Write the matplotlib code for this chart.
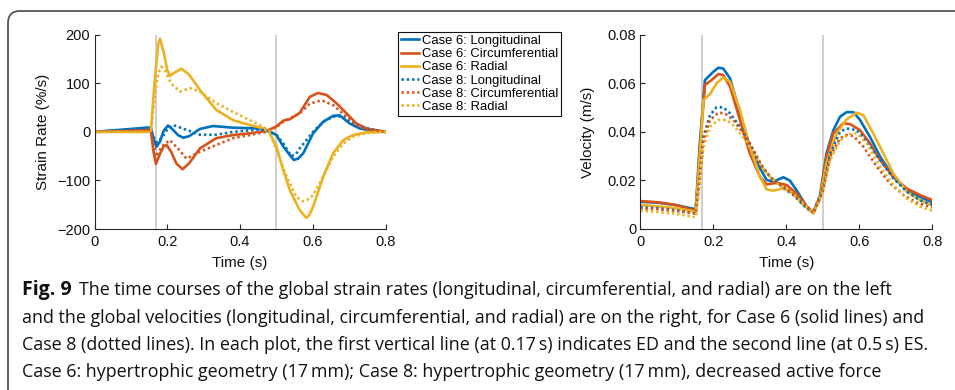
import numpy as np
import matplotlib
matplotlib.use("Agg")
import matplotlib.pyplot as plt
from matplotlib.patches import FancyBboxPatch
from matplotlib.ticker import FixedLocator, FuncFormatter

# ---------------- data: strain rate (%/s) ----------------
sr6_long_t = [0, 0.05, 0.1, 0.15, 0.155, 0.163, 0.17, 0.18, 0.19, 0.202, 0.215, 0.23, 0.244, 0.26, 0.29, 0.326,
              0.381, 0.454, 0.473, 0.5, 0.519, 0.537, 0.548, 0.56, 0.574, 0.601, 0.629, 0.656, 0.674, 0.702, 0.729, 0.766, 0.8]
sr6_long_y = [0, 3, 6, 9, 8, -15, -31, -20, 2, 13, 5, -7, -12, -9, 6, 12,
              8.5, 7, 4, -6.5, -30, -48, -58, -55, -44, -3, 21, 33, 34, 17, 7, 2, 0]

sr6_circ_t = [0, 0.05, 0.1, 0.15, 0.155, 0.162, 0.169, 0.18, 0.19, 0.198, 0.21, 0.225, 0.242, 0.26, 0.29, 0.335,
              0.381, 0.427, 0.473, 0.5, 0.519, 0.537, 0.564, 0.592, 0.614, 0.638, 0.665, 0.693, 0.72, 0.748, 0.8]
sr6_circ_y = [0, 1, 2, 4, 3, -40, -66, -45, -30, -27, -40, -65, -77, -65, -34, -13,
              -6.5, -3, 2, 11, 23, 26, 39, 72, 80, 76, 59, 38, 17, 7, 0]

sr6_rad_t = [0, 0.05, 0.1, 0.15, 0.155, 0.165, 0.175, 0.18, 0.19, 0.2, 0.207, 0.22, 0.239, 0.26, 0.29, 0.335,
             0.381, 0.427, 0.46, 0.48, 0.5, 0.519, 0.537, 0.564, 0.582, 0.59, 0.601, 0.629, 0.656, 0.684, 0.711, 0.748, 0.8]
sr6_rad_y = [0, 0, 0, 0, 2, 100, 180, 192, 165, 128, 115, 122, 130, 118, 86, 45,
             24, 14, 8, 0, -30, -79, -120, -161, -177, -172, -154, -92, -44, -17, -6.5, -1, 0]

sr8_long_t = [0, 0.05, 0.1, 0.15, 0.155, 0.163, 0.172, 0.185, 0.2, 0.216, 0.235, 0.253, 0.29, 0.335, 0.381,
              0.454, 0.48, 0.5, 0.519, 0.541, 0.555, 0.564, 0.601, 0.629, 0.656, 0.684, 0.711, 0.748, 0.8]
sr8_long_y = [0, 2, 3, 4, 3, -12, -22, -12, 5, 14, 9, 4, -6, -6, 0,
              5, 1, -6, -24, -50, -45, -34, 0, 21, 31, 32, 17, 7, 0]

sr8_circ_t = [0, 0.05, 0.1, 0.15, 0.155, 0.163, 0.17, 0.185, 0.207, 0.23, 0.253, 0.29, 0.335, 0.381, 0.427,
              0.473, 0.5, 0.519, 0.564, 0.592, 0.624, 0.656, 0.693, 0.72, 0.748, 0.8]
sr8_circ_y = [0, 1, 2, 3, 2, -30, -51, -30, -17, -35, -55, -41, -27, -13, -6.5,
              0, 10, 21, 38, 58, 65, 55, 31, 14, 5, 0]

sr8_rad_t = [0, 0.05, 0.1, 0.15, 0.155, 0.165, 0.175, 0.184, 0.195, 0.21, 0.235, 0.262, 0.29, 0.335, 0.381,
             0.427, 0.46, 0.48, 0.5, 0.528, 0.555, 0.572, 0.59, 0.601, 0.629, 0.656, 0.684, 0.711, 0.75, 0.8]
sr8_rad_y = [0, 0, 0, 0, 2, 70, 120, 134, 125, 100, 83, 90, 83, 59, 41,
             24, 12, 2, -37, -92, -134, -143, -138, -130, -92, -51, -24, -10, -2, 0]

# ---------------- data: velocity (m/s) ----------------
v6_long_t = [0, 0.05, 0.1, 0.152, 0.163, 0.177, 0.2, 0.214, 0.227, 0.246, 0.273, 0.3, 0.328, 0.346, 0.364, 0.392,
             0.41, 0.428, 0.456, 0.474, 0.492, 0.51, 0.529, 0.547, 0.565, 0.584, 0.602, 0.629, 0.657, 0.693, 0.73, 0.766, 0.8]
v6_long_y = [0.0112, 0.0108, 0.0098, 0.0081, 0.035, 0.0613, 0.0647, 0.0664, 0.0661, 0.062, 0.0476, 0.0339, 0.025,
             0.0202, 0.0195, 0.0213, 0.0199, 0.016, 0.0092, 0.0069, 0.0133, 0.031, 0.0407, 0.0462, 0.0481, 0.0481,
             0.0449, 0.038, 0.0298, 0.0215, 0.016, 0.0133, 0.011]

v6_circ_t = [0, 0.05, 0.1, 0.152, 0.163, 0.177, 0.195, 0.214, 0.227, 0.246, 0.273, 0.3, 0.328, 0.346, 0.374, 0.401,
             0.428, 0.456, 0.474, 0.492, 0.51, 0.529, 0.556, 0.575, 0.602, 0.629, 0.657, 0.693, 0.73, 0.766, 0.8]
v6_circ_y = [0.0115, 0.0110, 0.0098, 0.0075, 0.033, 0.0593, 0.0613, 0.0638, 0.0634, 0.0586, 0.0449, 0.0311, 0.0215,
             0.0184, 0.019, 0.0181, 0.0147, 0.0092, 0.0069, 0.013, 0.0298, 0.0394, 0.0435, 0.0432, 0.0407, 0.0353,
             0.0284, 0.0215, 0.0167, 0.014, 0.0119]

v6_rad_t = [0, 0.05, 0.1, 0.152, 0.163, 0.173, 0.191, 0.209, 0.227, 0.246, 0.273, 0.3, 0.328, 0.346, 0.364, 0.392,
            0.419, 0.447, 0.474, 0.492, 0.51, 0.538, 0.565, 0.593, 0.611, 0.638, 0.666, 0.693, 0.73, 0.766, 0.8]
v6_rad_y = [0.0099, 0.0093, 0.0085, 0.0071, 0.030, 0.0531, 0.0556, 0.060, 0.0624, 0.0606, 0.049, 0.0339, 0.0215,
            0.0163, 0.0158, 0.0167, 0.0147, 0.0099, 0.0067, 0.012, 0.027, 0.0394, 0.0451, 0.0479, 0.0469, 0.0394,
            0.0311, 0.0229, 0.0154, 0.0119, 0.0099]

v8_long_t = [0, 0.05, 0.1, 0.152, 0.163, 0.173, 0.191, 0.209, 0.227, 0.246, 0.273, 0.3, 0.328, 0.355, 0.383, 0.419,
             0.456, 0.474, 0.501, 0.52, 0.547, 0.565, 0.593, 0.62, 0.657, 0.693, 0.73, 0.766, 0.8]
v8_long_y = [0.0089, 0.0085, 0.0077, 0.0064, 0.022, 0.038, 0.0469, 0.0501, 0.0501, 0.0476, 0.0421, 0.0353, 0.027,
             0.0215, 0.0181, 0.014, 0.0085, 0.0067, 0.0174, 0.031, 0.040, 0.0414, 0.0407, 0.036, 0.0284, 0.0209,
             0.0154, 0.0119, 0.0099]

v8_circ_t = [0, 0.05, 0.1, 0.152, 0.163, 0.173, 0.191, 0.214, 0.232, 0.255, 0.282, 0.31, 0.337, 0.364, 0.401, 0.437,
             0.474, 0.501, 0.52, 0.547, 0.565, 0.584, 0.611, 0.648, 0.684, 0.721, 0.758, 0.8]
v8_circ_y = [0.0085, 0.0081, 0.0074, 0.0064, 0.021, 0.0366, 0.0449, 0.0479, 0.0476, 0.0449, 0.0394, 0.0325, 0.025,
             0.0202, 0.0167, 0.0126, 0.0064, 0.016, 0.0298, 0.0373, 0.0387, 0.0383, 0.0339, 0.0257, 0.0188, 0.014,
             0.0108, 0.0089]

v8_rad_t = [0, 0.05, 0.1, 0.152, 0.163, 0.173, 0.191, 0.214, 0.237, 0.259, 0.287, 0.315, 0.342, 0.374, 0.41, 0.447,
            0.474, 0.501, 0.52, 0.547, 0.57, 0.593, 0.62, 0.657, 0.693, 0.73, 0.766, 0.8]
v8_rad_y = [0.0075, 0.0070, 0.0062, 0.0048, 0.019, 0.0339, 0.0421, 0.0449, 0.0449, 0.0421, 0.0366, 0.0298, 0.0236,
            0.0188, 0.0154, 0.0106, 0.0064, 0.016, 0.0284, 0.0363, 0.0391, 0.0394, 0.0353, 0.0257, 0.0181, 0.0126,
            0.0092, 0.0075]

legend_labels = ["Case 6: Longitudinal", "Case 6: Circumferential", "Case 6: Radial",
                 "Case 8: Longitudinal", "Case 8: Circumferential", "Case 8: Radial"]
event_times = [0.17, 0.5]  # ED, ES

x_ticks = [0, 0.2, 0.4, 0.6, 0.8]
sr_ticks = [-200, -100, 0, 100, 200]
v_ticks = [0, 0.02, 0.04, 0.06, 0.08]

caption_bold = "Fig. 9"
caption_lines = [
    "The time courses of the global strain rates (longitudinal, circumferential, and radial) are on the left",
    "and the global velocities (longitudinal, circumferential, and radial) are on the right, for Case 6 (solid lines) and",
    "Case 8 (dotted lines). In each plot, the first vertical line (at 0.17\u2009s) indicates ED and the second line (at 0.5\u2009s) ES.",
    "Case 6: hypertrophic geometry (17\u2009mm); Case 8: hypertrophic geometry (17\u2009mm), decreased active force",
]

# ---------------- styling ----------------
W, H = 955, 390
C_BLUE, C_RED, C_YEL = "#0072BD", "#D95319", "#EDB120"
AX_COLOR = "#262626"
TXT = "#111111"
plt.rcParams["font.family"] = ["Liberation Sans", "DejaVu Sans"]
LW = 1.9
DOT = (0, (0.9, 1.1))

fig = plt.figure(figsize=(W / 100, H / 100), dpi=100)

def px_axes(x0, x1, ytop, ybot):
    return fig.add_axes([x0 / W, 1 - ybot / H, (x1 - x0) / W, (ybot - ytop) / H])

AX_L = (94.5, 385.5)
AX_R = (640.3, 932.3)
AX_TOP, AX_BOT = 34.7, 229
ax1 = px_axes(AX_L[0], AX_L[1], AX_TOP, AX_BOT)
ax2 = px_axes(AX_R[0], AX_R[1], AX_TOP, AX_BOT)

sr_series = [(sr6_long_t, sr6_long_y, C_BLUE, "-"), (sr6_circ_t, sr6_circ_y, C_RED, "-"),
             (sr6_rad_t, sr6_rad_y, C_YEL, "-"), (sr8_long_t, sr8_long_y, C_BLUE, DOT),
             (sr8_circ_t, sr8_circ_y, C_RED, DOT), (sr8_rad_t, sr8_rad_y, C_YEL, DOT)]
v_series = [(v6_long_t, v6_long_y, C_BLUE, "-"), (v6_circ_t, v6_circ_y, C_RED, "-"),
            (v6_rad_t, v6_rad_y, C_YEL, "-"), (v8_long_t, v8_long_y, C_BLUE, DOT),
            (v8_circ_t, v8_circ_y, C_RED, DOT), (v8_rad_t, v8_rad_y, C_YEL, DOT)]

handles = []
for ax, series, xr in ((ax1, sr_series, AX_L), (ax2, v_series, AX_R)):
    for tv in event_times:
        ax.axvline(tv, color="#cfcfcf", lw=1.4, zorder=0)
    hs = []
    for (t, y, c, ls), lab in zip(series, legend_labels):
        h, = ax.plot(t, y, color=c, ls=ls, lw=LW, label=lab, solid_joinstyle="round")
        hs.append(h)
    if ax is ax1:
        handles = hs
    ax.set_xlim(0, 0.8)
    ax.xaxis.set_major_locator(FixedLocator(x_ticks))
    ax.xaxis.set_major_formatter(FuncFormatter(lambda v, p: "0" if v == 0 else f"{v:g}"))
    for s in ("top", "right"):
        ax.spines[s].set_visible(False)
    for s in ("left", "bottom"):
        ax.spines[s].set_color(AX_COLOR)
        ax.spines[s].set_linewidth(0.8)
    ax.tick_params(direction="in", length=3.5, width=0.8, color=AX_COLOR, labelsize=10.5,
                   labelcolor=TXT)
    ax.tick_params(axis="x", pad=4)
    ax.tick_params(axis="y", pad=3)
    xl = ax.set_xlabel("Time (s)", fontsize=11, color=TXT)
    xl.set_va("center")
    ax.xaxis.set_label_coords(0.5, -(263 - AX_BOT) / (AX_BOT - AX_TOP))

ax1.set_ylim(-200, 200)
ax1.yaxis.set_major_locator(FixedLocator(sr_ticks))
yl1 = ax1.set_ylabel("Strain Rate (%/s)", fontsize=11, color=TXT)
ax2.set_ylim(0, 0.08)
ax2.yaxis.set_major_locator(FixedLocator(v_ticks))
ax2.yaxis.set_major_formatter(FuncFormatter(lambda v, p: "0" if v == 0 else f"{v:.2f}"))
yl2 = ax2.set_ylabel("Velocity (m/s)", fontsize=11, color=TXT)
for yl in (yl1, yl2):
    yl.set_va("center")
    yl.set_ha("center")
ax1.yaxis.set_label_coords((43 - AX_L[0]) / (AX_L[1] - AX_L[0]), 0.5)
ax2.yaxis.set_label_coords((588 - AX_R[0]) / (AX_R[1] - AX_R[0]), 0.5)

leg = fig.legend(handles=handles, loc="upper left", bbox_to_anchor=(398 / W, 1 - 32 / H),
                 fontsize=9.4, frameon=True, fancybox=False, edgecolor=TXT, framealpha=1,
                 handlelength=1.4, handletextpad=0.2, labelspacing=0.08, borderpad=0.22,
                 borderaxespad=0)
leg.get_frame().set_linewidth(0.8)

# frame around the figure panel
frame = FancyBboxPatch((8, -40), 1100, H - 11 + 40, boxstyle="round,pad=0,rounding_size=12",
                       transform=None, fill=False, edgecolor="#555555", lw=1.3)
fig.patches.append(frame)

# caption
cap_font = ["Open Sans", "DejaVu Sans"]
cap_size = 12.9
ys = [290, 318, 345, 372]
fig.text(22 / W, 1 - ys[0] / H, caption_bold, fontsize=14, fontweight="bold",
         family=cap_font, va="center", ha="left", color=TXT)
fig.text(79 / W, 1 - ys[0] / H, caption_lines[0], fontsize=cap_size, family=cap_font,
         va="center", ha="left", color=TXT)
for yy, line in zip(ys[1:], caption_lines[1:]):
    fig.text(22 / W, 1 - yy / H, line, fontsize=cap_size, family=cap_font,
             va="center", ha="left", color=TXT)

fig.savefig("out.png", dpi=100)
